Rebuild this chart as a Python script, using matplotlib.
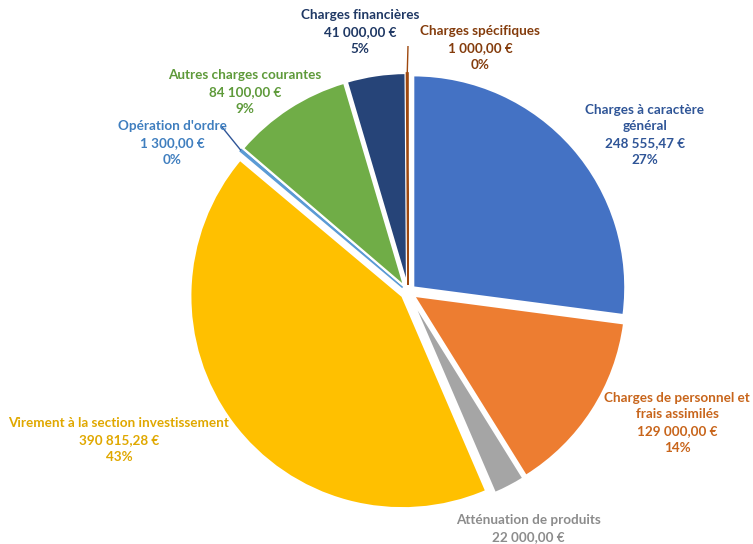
import numpy as np
import matplotlib.pyplot as plt

# data, clockwise from 12 o'clock
postes = ["Charges à caractère\ngénéral", "Charges de personnel et\nfrais assimilés",
          "Atténuation de produits", "Virement à la section investissement",
          "Opération d'ordre", "Autres charges courantes",
          "Charges financières", "Charges spécifiques"]
montants = [248555.47, 129000.00, 22000.00, 390815.28, 1300.00, 84100.00, 41000.00, 1000.00]
# percentages as printed on the chart
pourcentages = [27, 14, 2, 43, 0, 9, 5, 0]

slice_colors = ["#4472C4", "#ED7D31", "#A5A5A5", "#FFC000", "#5B9BD5", "#70AD47", "#264478", "#9E480E"]
label_colors = ["#2F5597", "#C8651B", "#8C8C8C", "#E0A800", "#3F7EBF", "#5E9A3A", "#1F3864", "#843C0C"]
# label block centres, in pixels of the 753x544 picture
label_xy = [(645, 135), (677, 423), (528, 537), (119, 440), (172, 143), (245, 92), (360, 32), (480, 48)]

W, H = 753, 544
cx, cy, R = 408, H - 292, 212

def eur(v):
    s = f"{v:,.2f}".replace(",", " ").replace(".", ",")
    return s + " €"

plt.rcParams['font.family'] = ['Lato', 'DejaVu Sans']

fig = plt.figure(figsize=(W / 100, H / 100), dpi=100)
ax = fig.add_axes([0, 0, 1, 1])

# explode is in data units (pixels here)
wedges, _ = ax.pie(montants, colors=slice_colors, startangle=90, counterclock=False,
                   explode=[7] * len(montants), center=(cx, cy), radius=R,
                   wedgeprops=dict(edgecolor='white', linewidth=1.5))
ax.set_xlim(0, W)
ax.set_ylim(0, H)
ax.set_aspect('equal')
ax.axis('off')

total = sum(montants)
for w, v, p, name, col, (lx, ly) in zip(wedges, montants, pourcentages, postes, label_colors, label_xy):
    if v / total < 0.005:
        # hairline slices are drawn as a coloured line
        w.set_edgecolor(w.get_facecolor())
        w.set_linewidth(1.2)
    txt = f"{name}\n{eur(v)}\n{p}%"
    ax.text(lx, H - ly, txt, ha='center', va='center', color=col,
            fontsize=9.7, fontweight='bold', linespacing=1.5)

# leader lines for the two tiny slices
for i, end in [(4, (222, 127)), (7, (408, 46))]:
    w = wedges[i]
    mid = np.deg2rad((w.theta1 + w.theta2) / 2)
    x0 = w.center[0] + w.r * np.cos(mid)
    y0 = w.center[1] + w.r * np.sin(mid)
    ax.plot([x0, end[0]], [y0, H - end[1]], color=slice_colors[i] if i == 7 else "#2F5597",
            lw=1.0, solid_capstyle='butt')

fig.savefig("out.png", dpi=100)
